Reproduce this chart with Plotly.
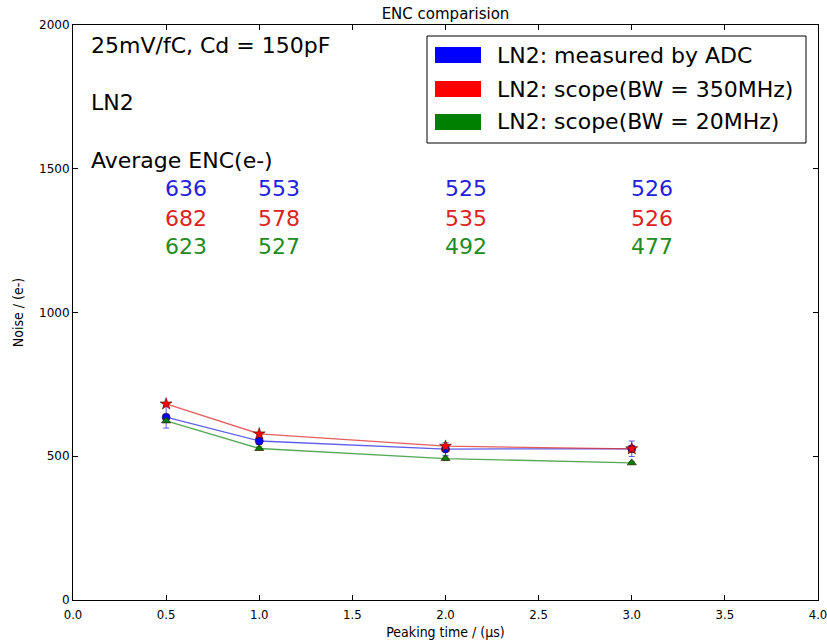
import plotly.graph_objects as go

# Peaking times (us) and average ENC values (electrons)
peaking_time = [0.5, 1.0, 2.0, 3.0]
enc_adc = [636, 553, 525, 526]
enc_scope_350 = [682, 578, 535, 526]
enc_scope_20 = [623, 527, 492, 477]
err_adc = [38, 12, 22, 27]
err_scope_350 = [5, 5, 6, 5]
err_scope_20 = [6, 6, 6, 5]

# Axis ticks
x_tick_values = [0.0, 0.5, 1.0, 1.5, 2.0, 2.5, 3.0, 3.5, 4.0]
x_tick_labels = ["0.0", "0.5", "1.0", "1.5", "2.0", "2.5", "3.0", "3.5", "4.0"]

series_names = ["LN2: measured by ADC", "LN2: scope(BW = 350MHz)", "LN2: scope(BW = 20MHz)"]
series_colors = ["#0000ff", "#ff0000", "#008000"]
text_colors = ["#2222dd", "#dd2222", "#228b22"]
line_colors = ["rgba(40,40,230,0.75)", "rgba(220,40,40,0.75)", "rgba(30,140,30,0.75)"]
marker_symbols = ["circle", "star", "triangle-up"]
marker_sizes = [8, 9, 8]

FONT = "DejaVu Sans"
NARROW = "DejaVu Sans Condensed, Liberation Sans Narrow, DejaVu Sans"

fig = go.Figure()
for name, ys, errs, col, lcol, sym, msz in zip(
    series_names,
    [enc_adc, enc_scope_350, enc_scope_20],
    [err_adc, err_scope_350, err_scope_20],
    series_colors, line_colors, marker_symbols, marker_sizes,
):
    fig.add_trace(go.Scatter(
        x=peaking_time, y=ys, mode="lines+markers", name=name,
        line=dict(color=lcol, width=1.3),
        marker=dict(symbol=sym, size=msz, color=col,
                    line=dict(color="rgba(60,0,0,0.7)", width=0.8)),
        error_y=dict(type="data", array=errs, visible=True, color=lcol,
                     thickness=1, width=3),
        showlegend=False,
    ))

# Header text in data coordinates
header_lines = [("25mV/fC, Cd = 150pF", 1930), ("LN2", 1732), ("Average ENC(e-)", 1527)]
for txt, yv in header_lines:
    fig.add_annotation(x=0.1, y=yv, text=txt, showarrow=False, xanchor="left",
                       yanchor="middle", xshift=-3,
                       font=dict(family=FONT, size=22, color="black"))

# Average ENC values, one row per measurement, one column per peaking time
row_levels = [1430, 1327, 1230]
for ys, col, yrow in zip([enc_adc, enc_scope_350, enc_scope_20], text_colors, row_levels):
    for xv, v in zip(peaking_time, ys):
        fig.add_annotation(x=xv, y=yrow, text=str(v), showarrow=False, xanchor="left",
                           yanchor="middle", xshift=-3,
                           font=dict(family=FONT, size=22, color=col))

# Legend drawn as patches and labels in plot-area fraction coordinates
L, R, T, B = 73, 818, 25, 600
def px_x(p):
    return (p - L) / (R - L)
def px_y(p):
    return (B - p) / (B - T)

fig.add_shape(type="rect", xref="paper", yref="paper",
              x0=px_x(427), x1=px_x(806), y0=px_y(143), y1=px_y(36),
              line=dict(color="black", width=1), fillcolor="white", layer="above")
row_centers = [55, 89, 122]
for name, col, yc in zip(series_names, series_colors, row_centers):
    fig.add_shape(type="rect", xref="paper", yref="paper",
                  x0=px_x(435), x1=px_x(481), y0=px_y(yc + 8), y1=px_y(yc - 8),
                  line=dict(color=col, width=0), fillcolor=col, layer="above")
    fig.add_annotation(xref="paper", yref="paper", x=px_x(495), y=px_y(yc), text=name,
                       showarrow=False, xanchor="left", yanchor="middle",
                       font=dict(family=FONT, size=22, color="black"))

fig.update_layout(
    width=827, height=642,
    margin=dict(l=L, r=827 - R, t=T, b=642 - B),
    paper_bgcolor="white", plot_bgcolor="white",
    title=dict(text="ENC comparision", x=(L + R) / 2 / 827, xanchor="center",
               y=1 - 14 / 642, yanchor="middle", font=dict(family=FONT, size=15, color="black")),
    font=dict(family=FONT, size=12, color="black"),
    showlegend=False,
)
fig.update_xaxes(range=[0, 4], tickmode="array", tickvals=x_tick_values, ticktext=x_tick_labels,
                 showgrid=False, zeroline=False,
                 showline=True, mirror="ticks", linecolor="black", linewidth=1,
                 ticks="inside", ticklen=5, tickcolor="black", automargin=False,
                 ticklabeloverflow="allow", ticklabelstandoff=2,
                 title=dict(text="Peaking time / (μs)", font=dict(family=NARROW, size=14), standoff=6),
                 tickfont=dict(family=NARROW, size=13))
fig.update_yaxes(range=[0, 2000], dtick=500, showgrid=False, zeroline=False,
                 showline=True, mirror="ticks", linecolor="black", linewidth=1,
                 ticks="inside", ticklen=5, tickcolor="black", automargin=False,
                 title=dict(text="Noise / (e-)", font=dict(family=NARROW, size=14), standoff=12),
                 tickfont=dict(size=12))

fig.write_html("out.html")
